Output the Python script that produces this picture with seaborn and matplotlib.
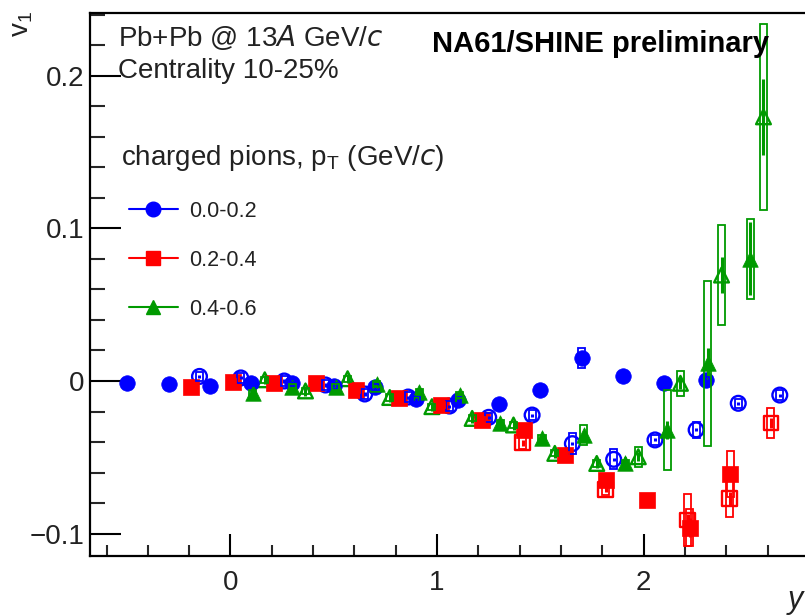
import numpy as np
import pandas as pd
import matplotlib
matplotlib.use("Agg")
import matplotlib.pyplot as plt
from matplotlib.lines import Line2D
from matplotlib.ticker import MultipleLocator, FixedLocator
import seaborn as sns

# ---------------- data ----------------
blue_f_x = [-0.5, -0.3, -0.1, 0.1, 0.3, 0.5, 0.7, 0.9, 1.1, 1.3, 1.5, 1.7, 1.9, 2.1, 2.3]
blue_f_y = [-0.001, -0.002, -0.003, -0.001, -0.001, -0.003, -0.004, -0.012, -0.0125, -0.015, -0.006, 0.015, 0.003, -0.0015, 0.0007]
blue_f_stat = [0.001] * 11 + [0.003, 0.001, 0.001, 0.001]
blue_f_sys = [0.002] * 11 + [0.0065, 0.002, 0.002, 0.002]

blue_o_x = [-0.15, 0.05, 0.26, 0.46, 0.65, 0.86, 1.06, 1.25, 1.46, 1.655, 1.855, 2.055, 2.254, 2.458, 2.659]
blue_o_y = [0.003, 0.002, 0.0, -0.0026, -0.0085, -0.0105, -0.0164, -0.0238, -0.0223, -0.041, -0.0513, -0.0386, -0.032, -0.0146, -0.0092]
blue_o_stat = [0.001] * 15
blue_o_sys = [0.003] * 9 + [0.007, 0.0065, 0.003, 0.005, 0.003, 0.003]

red_f_x = [-0.19, 0.01, 0.21, 0.416, 0.61, 0.815, 1.02, 1.216, 1.42, 1.62, 1.817, 2.015, 2.222, 2.42]
red_f_y = [-0.004, -0.0005, -0.001, -0.0015, -0.006, -0.011, -0.0157, -0.0255, -0.0322, -0.0485, -0.0648, -0.078, -0.096, -0.061]
red_f_stat = [0.001] * 12 + [0.006, 0.004]
red_f_sys = [0.002] * 12 + [0.012, 0.015]

red_o_x = [1.415, 1.817, 2.214, 2.417, 2.616]
red_o_y = [-0.0405, -0.0709, -0.091, -0.077, -0.0275]
red_o_stat = [0.002, 0.002, 0.004, 0.004, 0.003]
red_o_sys = [0.004, 0.004, 0.017, 0.012, 0.0095]

green_f_x = [0.108, 0.30, 0.51, 0.709, 0.914, 1.11, 1.306, 1.508, 1.711, 1.912, 2.115, 2.311, 2.515]
green_f_y = [-0.008, -0.0042, -0.0042, -0.002, -0.007, -0.009, -0.0275, -0.0375, -0.0354, -0.054, -0.032, 0.0116, 0.080]
green_f_stat = [0.002] * 9 + [0.004, 0.006, 0.010, 0.024]
green_f_sys = [0.002] * 8 + [0.0065, 0.002, 0.026, 0.054, 0.026]

green_o_x = [0.166, 0.363, 0.567, 0.771, 0.975, 1.17, 1.37, 1.57, 1.773, 1.974, 2.178, 2.377, 2.58]
green_o_y = [0.0008, -0.0065, 0.0015, -0.0108, -0.0168, -0.0245, -0.0288, -0.0474, -0.054, -0.0496, -0.0015, 0.0694, 0.173]
green_o_stat = [0.003] * 10 + [0.004, 0.0115, 0.025]
green_o_sys = [0.002] * 9 + [0.0065, 0.008, 0.033, 0.061]

series_labels = ["0.0-0.2", "0.2-0.4", "0.4-0.6"]
xticks_major = [0, 1, 2]
yticks_major = [-0.1, 0.0, 0.1, 0.2]
ytick_labels = ["\u22120.1", "0", "0.1", "0.2"]

# ---------------- style ----------------
sns.set_theme(style="white")
plt.rcParams["font.family"] = ["Liberation Sans", "DejaVu Sans"]
plt.rcParams["mathtext.default"] = "regular"

BLUE = "#0000ff"
RED = "#ff0000"
GREEN = "#009a00"

fig = plt.figure(figsize=(8.05, 6.16), dpi=100)
ax = fig.add_axes([90 / 805, 60 / 616, 1.0 - 90 / 805 + 0.01, (556 - 13) / 616])
ax.set_xlim(-0.68, 2.82)
ax.set_ylim(-0.1146, 0.241)

BOXW = 0.034
MS = 125  # scatter size (pt^2)


def draw(xs, ys, stat, sys_, color, marker, filled):
    df = pd.DataFrame({"x": xs, "y": ys})
    if filled:
        sns.scatterplot(data=df, x="x", y="y", ax=ax, marker=marker, s=MS,
                        color=color, edgecolor=color, linewidth=0.5, zorder=3, legend=False)
    else:
        sns.scatterplot(data=df, x="x", y="y", ax=ax, marker=marker, s=MS * 0.9,
                        facecolors="none", edgecolor=color, linewidth=1.7, zorder=3, legend=False)
    ax.errorbar(xs, ys, yerr=stat, fmt="none", ecolor=color, elinewidth=2.2, capsize=0, zorder=4)
    sys_a = np.asarray(sys_)
    ax.bar(xs, 2 * sys_a, bottom=np.asarray(ys) - sys_a, width=BOXW, fill=False,
           edgecolor=color, linewidth=1.3, zorder=5)


draw(blue_o_x, blue_o_y, blue_o_stat, blue_o_sys, BLUE, "o", False)
draw(red_o_x, red_o_y, red_o_stat, red_o_sys, RED, "s", False)
draw(green_o_x, green_o_y, green_o_stat, green_o_sys, GREEN, "^", False)
draw(blue_f_x, blue_f_y, blue_f_stat, blue_f_sys, BLUE, "o", True)
draw(red_f_x, red_f_y, red_f_stat, red_f_sys, RED, "s", True)
draw(green_f_x, green_f_y, green_f_stat, green_f_sys, GREEN, "^", True)

# ---------------- axes styling (ROOT-like) ----------------
ax.set_xlabel("")
ax.set_ylabel("")
for s in ["left", "bottom", "top"]:
    ax.spines[s].set_visible(True)
    ax.spines[s].set_color("black")
    ax.spines[s].set_linewidth(1.6)
ax.spines["right"].set_visible(False)

ax.xaxis.set_major_locator(FixedLocator(xticks_major))
ax.xaxis.set_minor_locator(MultipleLocator(0.2))
ax.yaxis.set_major_locator(FixedLocator(yticks_major))
ax.set_yticklabels(ytick_labels)
ax.yaxis.set_minor_locator(MultipleLocator(0.02))
ax.tick_params(axis="x", which="major", direction="in", length=16, width=1.5,
               labelsize=20, pad=10, bottom=True, top=False, colors="black")
ax.tick_params(axis="x", which="minor", direction="in", length=8, width=1.5, bottom=True, top=False)
ax.tick_params(axis="y", which="major", direction="in", length=22, width=1.5,
               labelsize=20, pad=4, left=True, right=False, colors="black")
ax.tick_params(axis="y", which="minor", direction="in", length=11, width=1.5, left=True, right=False)
for lab in ax.get_xticklabels() + ax.get_yticklabels():
    lab.set_color("#222222")

# axis titles
fig.text(22 / 805, 1 - 24 / 616, "v$_1$", rotation=90, fontsize=20, ha="center", va="center", color="#222222")
fig.text(795 / 805, 1 - 600 / 616, "y", style="italic", fontsize=22, ha="center", va="center", color="#222222")

# annotations
fig.text(118 / 805, 1 - 38 / 616, r"Pb+Pb @ 13$\it{A}$ GeV/$\it{c}$", fontsize=20, ha="left", va="center", color="#222222")
fig.text(118 / 805, 1 - 71 / 616, "Centrality 10-25%", fontsize=20, ha="left", va="center", color="#222222")
fig.text(432 / 805, 1 - 44 / 616, "NA61/SHINE preliminary", fontsize=21, fontweight="bold", ha="left", va="center", color="black")
fig.text(121 / 805, 1 - 158 / 616, r"charged pions, p$_T$ (GeV/$\it{c}$)", fontsize=20, ha="left", va="center", color="#222222")

# legend
handles = [
    Line2D([], [], color=BLUE, marker="o", markersize=10.5, lw=1.5),
    Line2D([], [], color=RED, marker="s", markersize=10.5, lw=1.5),
    Line2D([], [], color=GREEN, marker="^", markersize=10.5, lw=1.5),
]
leg = ax.legend(handles, series_labels, loc="upper left", bbox_to_anchor=(120 / 805, 1 - 192 / 616),
                bbox_transform=fig.transFigure, frameon=False, fontsize=15.5,
                handlelength=2.3, handletextpad=0.5, labelspacing=1.3, borderaxespad=0)
for t in leg.get_texts():
    t.set_color("#222222")

fig.savefig("out.png", dpi=100)
